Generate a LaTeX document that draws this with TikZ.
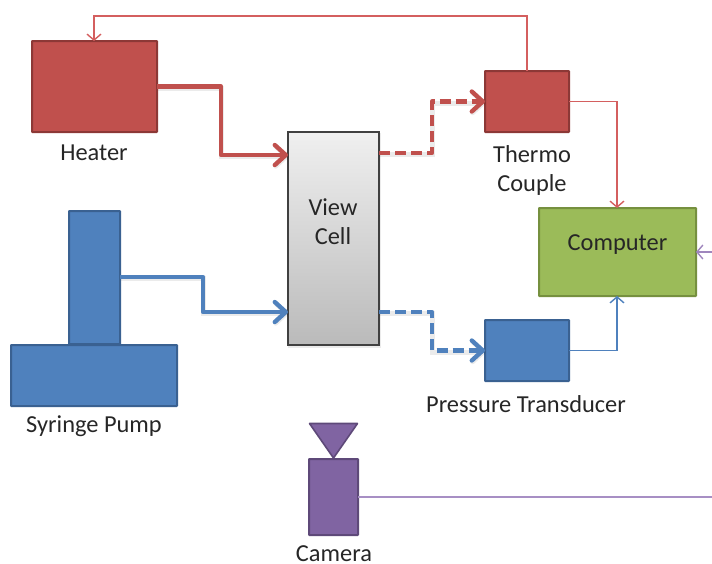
\documentclass[tikz,border=0pt]{standalone}
\usepackage{fontspec}
\setmainfont{Carlito}
\usetikzlibrary{arrows.meta}
\definecolor{redfill}{HTML}{C0504D}
\definecolor{redline}{HTML}{8C3836}
\definecolor{bluefill}{HTML}{4F81BD}
\definecolor{blueline}{HTML}{3A6191}
\definecolor{greenfill}{HTML}{9BBB59}
\definecolor{greenline}{HTML}{76903F}
\definecolor{purplefill}{HTML}{8064A2}
\definecolor{purpleline}{HTML}{5E4979}
\definecolor{lightred}{HTML}{D45F5F}
\definecolor{lightpurple}{HTML}{A78FC4}
\newcommand{\labelfont}{\fontsize{24.4}{29}\selectfont}
\tikzset{
  box/.style={draw,rectangle,line width=2pt,inner sep=0pt,outer sep=0pt,rounded corners=0.6pt},
  redbox/.style={box,fill=redfill,draw=redline},
  bluebox/.style={box,fill=bluefill,draw=blueline},
  greenbox/.style={box,fill=greenfill,draw=greenline},
  purplebox/.style={box,fill=purplefill,draw=purpleline},
  cellbox/.style={rectangle,draw=black!75,line width=1.2pt,inner sep=0pt,outer sep=0pt,top color=black!6,bottom color=black!27,
    preaction={draw=black,opacity=.08,line width=2pt,transform canvas={xshift=1pt,yshift=-1.5pt}}},
  label/.style={font=\labelfont,inner sep=0pt,text=black!85},
  thickflow/.style={line width=4.4pt,line join=round,-{Straight Barb[round,length=11pt,width=20pt,line width=4.4pt]},
    preaction={draw=black,opacity=.08,line width=5pt,transform canvas={xshift=.8pt,yshift=-1.5pt}}},
  dashflow/.style={thickflow,dash pattern=on 11pt off 5pt},
  thinflow/.style={line width=1.4pt,-{Straight Barb[length=6pt,width=14pt,line width=1.4pt]}},
  thinline/.style={line width=1.4pt}
}
\begin{document}
\begin{tikzpicture}[x=1pt,y=-1pt]
\useasboundingbox (0,0) rectangle (712,563);
% equipment
\node[redbox,minimum width=125pt,minimum height=91pt] (heater) at (94.5,86.5) {};
\node[label] (heaterlabel) at (94,153) {Heater};
\node[cellbox,minimum width=91pt,minimum height=213pt] (cell) at (333.5,238.5) {};
\node[label,align=center] (celllabel) at (333,222) {View\\Cell};
\node[redbox,minimum width=84pt,minimum height=61pt] (thermo) at (527,101.5) {};
\node[label,align=center] (thermolabel) at (532,170) {Thermo\\Couple};
\node[greenbox,minimum width=157pt,minimum height=88pt] (computer) at (617.5,252) {};
\node[label] (computerlabel) at (617.5,245) {Computer};
\node[bluebox,minimum width=51pt,minimum height=133pt] (plunger) at (94.5,277.5) {};
\node[bluebox,minimum width=166pt,minimum height=61pt] (pump) at (94,375.5) {};
\node[label] (pumplabel) at (94,426) {Syringe Pump};
\node[bluebox,minimum width=84pt,minimum height=61pt] (pressure) at (527,350.5) {};
\node[label] (pressurelabel) at (526,404) {Pressure Transducer};
\node[purplebox,minimum width=49pt,minimum height=76pt] (camera) at (333.5,497) {};
\draw[purpleline,fill=purplefill,line width=1.6pt,line join=round] (309.5,423.5) -- (357.5,423.5) -- (333.5,458) -- cycle;
\node[label,anchor=base] (cameralabel) at (334,561.5) {Camera};
% connector ends
\coordinate (cellinA) at (288,155);
\coordinate (cellinB) at (288,312);
\coordinate (celloutA) at (379,153);
\coordinate (celloutB) at (379,312);
\coordinate (plungerout) at (120,277);
\coordinate (feedback) at (94,41);
\coordinate (feedbacktop) at (527,16);
\coordinate (compin) at (696,252);
\coordinate (compedge) at (712,252);
\coordinate (camedge) at (712,497);
% thick flows
\draw[thickflow,redfill] (heater.east) -- (221,86.5) -- (221,155) -- (cellinA);
\draw[dashflow,redfill] (celloutA) -- (432,153) -- (432,101.5) -- (thermo.west);
\draw[thickflow,bluefill] (plungerout) -- (203,277) -- (203,312) -- (cellinB);
\draw[dashflow,bluefill] (celloutB) -- (432,312) -- (432,350.5) -- (pressure.west);
% thin flows
\draw[thinflow,lightred] (thermo.north) -- (feedbacktop) -- (94,16) -- (feedback);
\draw[thinflow,lightred] (thermo.east) -- (617,101.5) -- (617,208);
\draw[thinflow,bluefill] (pressure.east) -- (617,350.5) -- (617,296);
\draw[thinflow,lightpurple!80!purplefill] (compedge) -- (compin);
\draw[thinline,lightpurple] (camera.east) -- (camedge);
\end{tikzpicture}
\end{document}
